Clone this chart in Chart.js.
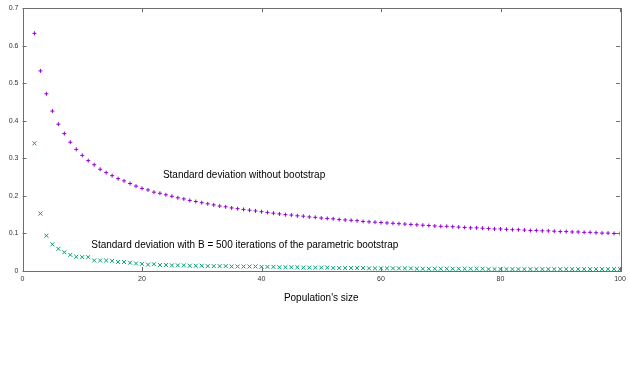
<!DOCTYPE html>
<html>
<head>
<meta charset="utf-8">
<script src="https://cdn.jsdelivr.net/npm/chart.js@4"></script>
<style>
  html, body { margin: 0; padding: 0; background: #fff; }
  #wrap { width: 630px; height: 378px; position: relative; }
</style>
</head>
<body>
<div id="wrap"><canvas id="chart"></canvas></div>
<script>
/* DATA */
const sizes = [];
for (let n = 2; n <= 100; n++) sizes.push(n);

const sdPlain = [
  0.633, 0.533, 0.472, 0.426, 0.391, 0.366, 0.343, 0.324, 0.308, 0.294,
  0.283, 0.271, 0.262, 0.254, 0.246, 0.240, 0.233, 0.226, 0.220, 0.216,
  0.210, 0.207, 0.203, 0.199, 0.195, 0.192, 0.188, 0.185, 0.182, 0.179,
  0.176, 0.173, 0.171, 0.168, 0.166, 0.164, 0.162, 0.160, 0.158, 0.156,
  0.154, 0.152, 0.150, 0.149, 0.147, 0.146, 0.144, 0.143, 0.141, 0.140,
  0.139, 0.137, 0.136, 0.135, 0.134, 0.132, 0.131, 0.130, 0.129, 0.128,
  0.127, 0.126, 0.125, 0.124, 0.123, 0.122, 0.121, 0.120, 0.119, 0.119,
  0.118, 0.117, 0.116, 0.115, 0.115, 0.114, 0.113, 0.112, 0.112, 0.111,
  0.110, 0.110, 0.109, 0.108, 0.108, 0.107, 0.107, 0.106, 0.105, 0.105,
  0.104, 0.104, 0.103, 0.103, 0.102, 0.101, 0.101, 0.100, 0.100
];

const sdBoot = [
  0.340, 0.153, 0.094, 0.071, 0.059, 0.050, 0.043, 0.038, 0.037, 0.037,
  0.028, 0.028, 0.028, 0.027, 0.024, 0.024, 0.022, 0.020, 0.019, 0.017,
  0.018, 0.016, 0.016, 0.015, 0.015, 0.015, 0.014, 0.014, 0.014, 0.013,
  0.013, 0.013, 0.013, 0.012, 0.012, 0.012, 0.012, 0.012, 0.011, 0.011,
  0.011, 0.010, 0.010, 0.010, 0.010, 0.009, 0.009, 0.009, 0.009, 0.009,
  0.008, 0.008, 0.008, 0.008, 0.008, 0.008, 0.007, 0.007, 0.007, 0.007,
  0.007, 0.007, 0.007, 0.007, 0.006, 0.006, 0.006, 0.006, 0.006, 0.006,
  0.006, 0.006, 0.006, 0.006, 0.006, 0.006, 0.005, 0.005, 0.005, 0.005,
  0.005, 0.005, 0.005, 0.005, 0.005, 0.005, 0.005, 0.005, 0.005, 0.005,
  0.005, 0.005, 0.005, 0.005, 0.005, 0.005, 0.005, 0.005, 0.005
];

const xTicks = [0, 20, 40, 60, 80, 100];
const yTicks = [0, 0.1, 0.2, 0.3, 0.4, 0.5, 0.6, 0.7];

const notes = [
  { text: "Standard deviation without bootstrap", x: 23.5, y: 0.256 },
  { text: "Standard deviation with B = 500 iterations of the parametric bootstrap", x: 11.5, y: 0.069 }
];

const PURPLE = "#9400d3";
const GREEN = "#009e73";

/* PLUGIN: frame, inward ticks, notes */
const framePlugin = {
  id: "frame",
  afterDatasetsDraw(chart) {
    const { ctx, chartArea: a, scales: { x, y } } = chart;
    ctx.save();
    ctx.strokeStyle = "#6e6e6e";
    ctx.lineWidth = 1;
    ctx.strokeRect(Math.round(a.left) + 0.5, Math.round(a.top) + 0.5,
      Math.round(a.right - a.left), Math.round(a.bottom - a.top));
    ctx.beginPath();
    xTicks.forEach(v => {
      const px = Math.round(x.getPixelForValue(v)) + 0.5;
      ctx.moveTo(px, a.bottom); ctx.lineTo(px, a.bottom - 4);
      ctx.moveTo(px, a.top); ctx.lineTo(px, a.top + 4);
    });
    yTicks.forEach(v => {
      const py = Math.round(y.getPixelForValue(v)) + 0.5;
      ctx.moveTo(a.left, py); ctx.lineTo(a.left + 4, py);
      ctx.moveTo(a.right, py); ctx.lineTo(a.right - 4, py);
    });
    ctx.stroke();

    ctx.fillStyle = "#000";
    ctx.font = "10px 'Liberation Sans', Arial, sans-serif";
    ctx.textBaseline = "middle";
    ctx.textAlign = "left";
    notes.forEach(n => {
      ctx.fillText(n.text, x.getPixelForValue(n.x), y.getPixelForValue(n.y));
    });
    ctx.restore();
  }
};

/* CHART */
new Chart(document.getElementById("chart"), {
  type: "scatter",
  data: {
    datasets: [
      {
        data: sizes.map((n, i) => ({ x: n, y: sdPlain[i] })),
        pointStyle: "cross",
        pointRadius: 2,
        pointHoverRadius: 2,
        pointBorderColor: PURPLE,
        pointBackgroundColor: PURPLE,
        borderColor: PURPLE,
        backgroundColor: PURPLE,
        pointBorderWidth: 1
      },
      {
        data: sizes.map((n, i) => ({ x: n, y: sdBoot[i] })),
        pointStyle: "crossRot",
        pointRadius: 2.8,
        pointHoverRadius: 2.8,
        pointBorderColor: GREEN,
        pointBackgroundColor: GREEN,
        borderColor: GREEN,
        backgroundColor: GREEN,
        pointBorderWidth: 1
      }
    ]
  },
  plugins: [framePlugin],
  options: {
    responsive: true,
    maintainAspectRatio: false,
    animation: false,
    events: [],
    layout: { padding: { left: 0, top: 7, right: 10, bottom: 68 } },
    plugins: { legend: { display: false }, tooltip: { enabled: false } },
    scales: {
      x: {
        type: "linear",
        min: 0, max: 100,
        afterFit: s => { s.height = 39; },
        afterBuildTicks: s => { s.ticks = xTicks.map(v => ({ value: v })); },
        grid: { display: false, drawTicks: false },
        border: { display: false },
        ticks: {
          padding: 4,
          color: "#333",
          font: { family: "'Liberation Sans', Arial, sans-serif", size: 7 },
          maxRotation: 0
        },
        title: {
          display: true,
          text: "Population's size",
          color: "#000",
          padding: { top: 0, bottom: 6 },
          font: { family: "'Liberation Sans', Arial, sans-serif", size: 10 }
        }
      },
      y: {
        type: "linear",
        min: 0, max: 0.7,
        afterFit: s => { s.width = 22.5; },
        afterBuildTicks: s => { s.ticks = yTicks.map(v => ({ value: v })); },
        grid: { display: false, drawTicks: false },
        border: { display: false },
        ticks: {
          padding: 4,
          color: "#333",
          font: { family: "'Liberation Sans', Arial, sans-serif", size: 7 },
          callback: v => String(Math.round(v * 10) / 10)
        }
      }
    }
  }
});
</script>
</body>
</html>
